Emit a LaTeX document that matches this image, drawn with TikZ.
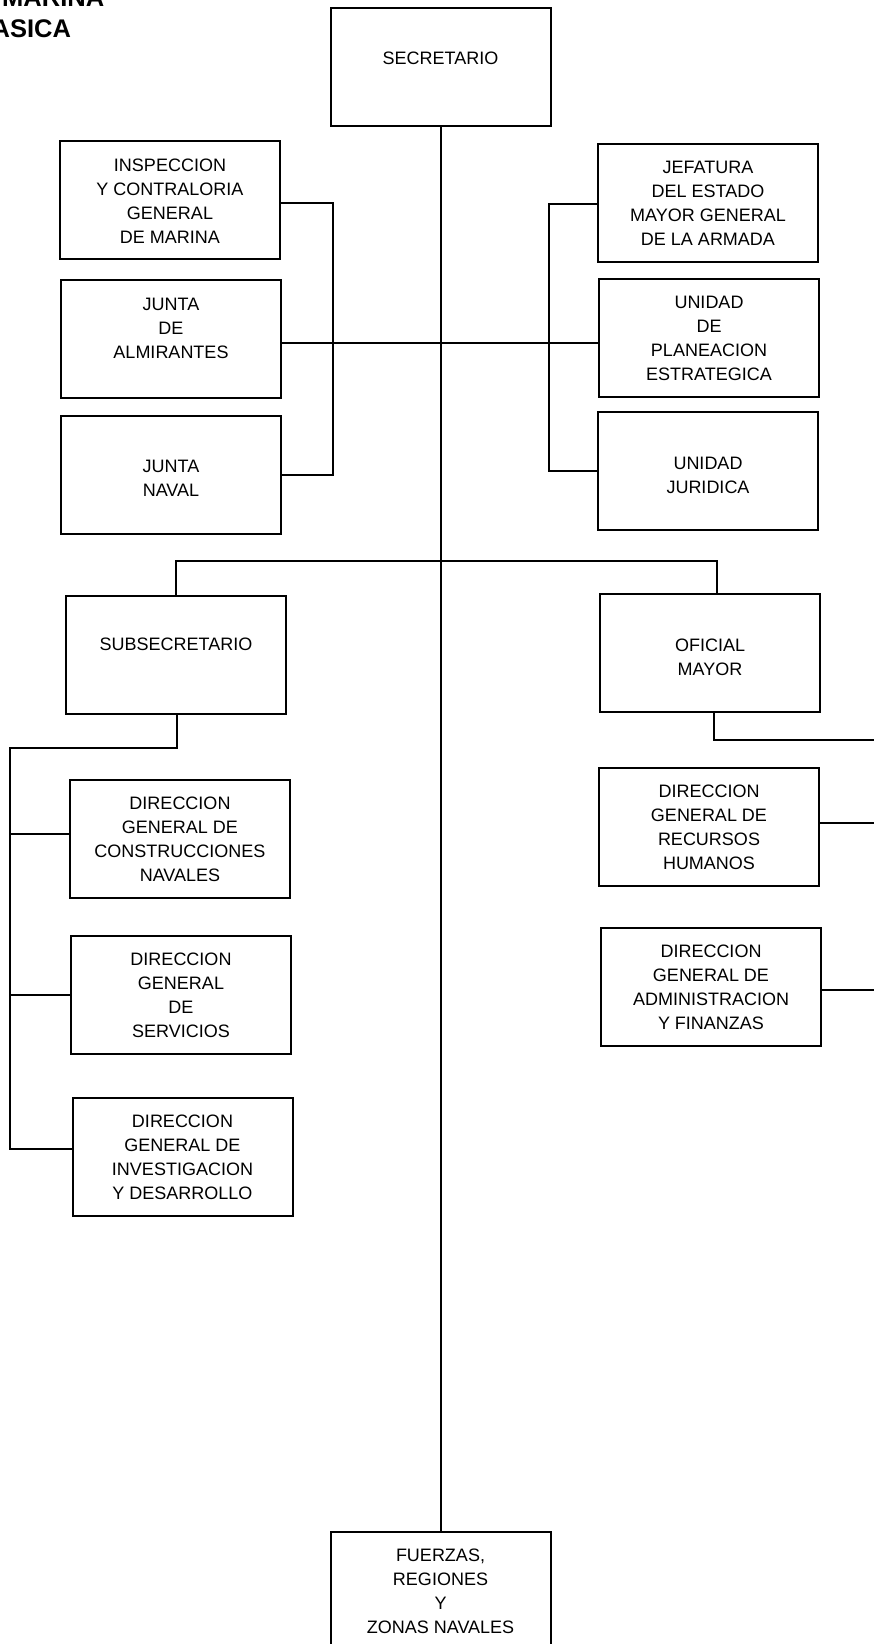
\documentclass[tikz,border=0pt]{standalone}
\usepackage{fontspec}
\setmainfont{Liberation Sans}
\usepackage{tikz}

\tikzset{
    unit/.style={draw,line width=2pt,anchor=north west,minimum width=220pt,minimum height=118pt,inner sep=0pt,outer sep=0pt},
    txt/.style={anchor=north,align=center,inner sep=0pt,font=\fontsize{18}{24}\selectfont,yshift=#1},
    txt/.default=-17.5pt,
    link/.style={line width=2pt},
    ttl/.style={anchor=base west,inner sep=0pt,font=\fontsize{25.5}{31}\selectfont\bfseries}
}

\begin{document}
\begin{tikzpicture}[x=1pt,y=-1pt]
    \useasboundingbox (0,0) rectangle (874,1644);

    \node[ttl] (ttla) at (2,6) {MARINA};
    \node[ttl] (ttlb) at (-8.5,37.5) {ASICA};

    \node[unit,label={[txt=-44.5pt]north:SECRETARIO}] (secr) at (330.5,7.5) {};

    % staff units
    \node[unit,label={[txt]north:INSPECCION\\Y CONTRALORIA\\GENERAL\\DE MARINA}] (insp) at (60,141) {};
    \node[unit,label={[txt]north:JUNTA\\DE\\ALMIRANTES}] (junta) at (61,280) {};
    \node[unit,label={[txt=-44.5pt]north:JUNTA\\NAVAL}] (jnav) at (61,415.5) {};
    \node[unit,label={[txt]north:JEFATURA\\DEL ESTADO\\MAYOR GENERAL\\DE LA ARMADA}] (jefe) at (598,143.5) {};
    \node[unit,label={[txt=-17pt]north:UNIDAD\\DE\\PLANEACION\\ESTRATEGICA}] (uplan) at (599,279) {};
    \node[unit,label={[txt=-44.5pt]north:UNIDAD\\JURIDICA}] (ujur) at (598,412) {};

    \node[unit,label={[txt=-42pt]north:SUBSECRETARIO}] (subsec) at (66,596) {};
    \node[unit,label={[txt=-44.5pt]north:OFICIAL\\MAYOR}] (ofmay) at (600,594) {};

    % direcciones generales
    \node[unit,label={[txt=-17pt]north:DIRECCION\\GENERAL DE\\CONSTRUCCIONES\\NAVALES}] (dgcn) at (70,780) {};
    \node[unit,label={[txt=-17pt]north:DIRECCION\\GENERAL\\DE\\SERVICIOS}] (dgserv) at (71,936) {};
    \node[unit,label={[txt=-17pt]north:DIRECCION\\GENERAL DE\\INVESTIGACION\\Y DESARROLLO}] (dginv) at (72.5,1098) {};
    \node[unit,label={[txt=-17pt]north:DIRECCION\\GENERAL DE\\RECURSOS\\HUMANOS}] (dgrh) at (599,768) {};
    \node[unit,label={[txt=-17pt]north:DIRECCION\\GENERAL DE\\ADMINISTRACION\\Y FINANZAS}] (dgaf) at (601,927.5) {};

    \node[unit,label={[txt]north:FUERZAS,\\REGIONES\\Y\\ZONAS NAVALES}] (fuer) at (330.5,1531.5) {};

    \coordinate (tbar) at (441,561);
    \coordinate (lbus) at (10,748);
    \coordinate (rbus) at (876,739.5);

    \draw[link] (secr.south) -- (fuer.north);
    \draw[link] ([yshift=-3pt]insp.east) -| ([xshift=52.3pt]jnav.east) -- (jnav.east);
    \draw[link] ([yshift=-1.5pt]jefe.west) -| ([xshift=-49.5pt]ujur.west) -- (ujur.west);
    \draw[link] ([yshift=-3.5pt]junta.east) -- ([yshift=-3.5pt]junta.east -| uplan.west);

    \draw[link] (subsec.north) |- (tbar) -| ([xshift=7pt]ofmay.north);
    \draw[link] ([xshift=1pt]subsec.south) |- (lbus) |- ([yshift=8pt]dginv.west);
    \draw[link] ([yshift=5pt]dgcn.west) -- ([yshift=5pt]dgcn.west -| lbus);
    \draw[link] (dgserv.west) -- (dgserv.west -| lbus);

    \draw[link] ([xshift=3.5pt]ofmay.south) |- (rbus);
    \draw[link] ([yshift=4pt]dgrh.east) -- ([yshift=4pt]dgrh.east -| rbus);
    \draw[link] ([yshift=-3pt]dgaf.east) -- ([yshift=-3pt]dgaf.east -| rbus);
\end{tikzpicture}
\end{document}
